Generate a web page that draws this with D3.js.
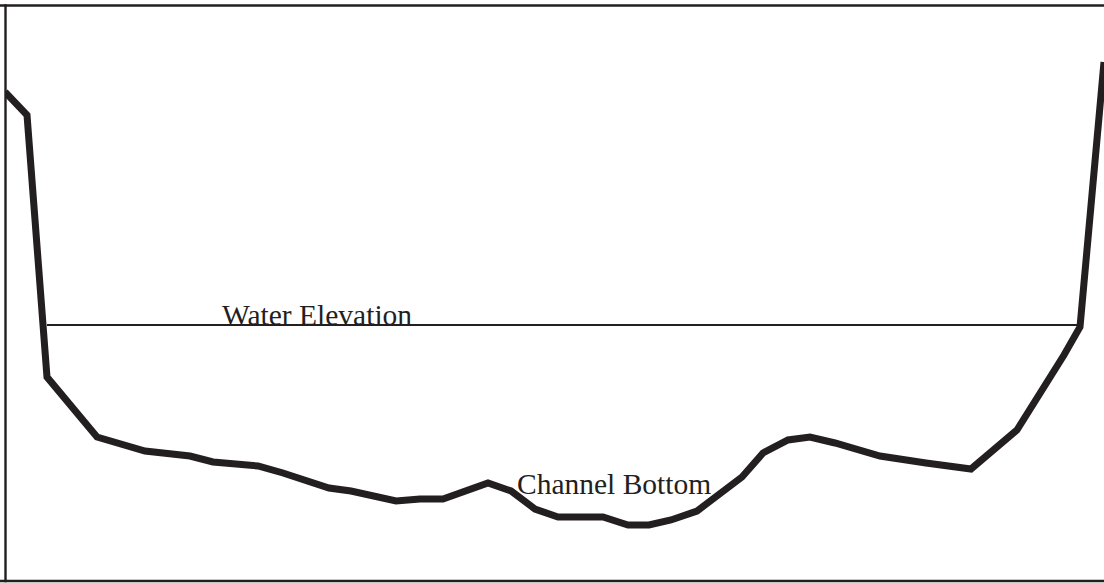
<!DOCTYPE html>
<html>
<head>
<meta charset="utf-8">
<script src="https://cdn.jsdelivr.net/npm/d3@7/dist/d3.min.js"></script>
<style>
  html, body { margin: 0; padding: 0; background: #fff; }
  svg { display: block; }
</style>
</head>
<body>
<svg id="chart" width="1104" height="583"></svg>
<script>
// Channel cross-section: station (horizontal distance) and bed elevation
const stations = [0, 22, 42, 92, 140, 185, 208, 253, 278, 324, 346, 391, 415, 438, 483, 506, 530, 553, 598, 623, 644, 666, 692, 737, 758, 783, 805, 830, 875, 921, 966, 1012, 1059, 1075, 1099];
const bedElevation = [489, 466, 204, 144, 130, 125, 119, 115, 108, 93, 90, 80, 82, 82, 98, 90, 72, 64, 64, 56, 56, 61, 70, 104, 128, 141, 144, 138, 125, 118, 112, 151, 226, 254, 519];
// Water surface
const waterStations = [42, 1073];
const waterElevation = [256, 256];
// Labels
const labelTexts = ["Water Elevation", "Channel Bottom"];
const labelStations = [217, 512];
const labelElevations = [256, 87];

const W = 1104, H = 583;
const ink = "#231f20";
const svg = d3.select("#chart");

const x = d3.scaleLinear().domain([0, 1099]).range([5, 1104]);
const y = d3.scaleLinear().domain([0, 576]).range([581, 5]);

svg.append("defs").append("clipPath").attr("id", "plotclip")
  .append("rect").attr("x", 5).attr("y", 5).attr("width", W - 5).attr("height", 576);

const g = svg.append("g").attr("clip-path", "url(#plotclip)");

const line = d3.line().x(d => x(d[0])).y(d => y(d[1]));

// water surface
g.append("path")
  .datum(d3.zip(waterStations, waterElevation))
  .attr("d", line)
  .attr("fill", "none")
  .attr("stroke", ink)
  .attr("stroke-width", 2);

// channel bottom
g.append("path")
  .datum(d3.zip(stations, bedElevation))
  .attr("d", line)
  .attr("fill", "none")
  .attr("stroke", ink)
  .attr("stroke-width", 7)
  .attr("stroke-linejoin", "miter");

// labels
svg.selectAll("text.lbl")
  .data(d3.zip(labelTexts, labelStations, labelElevations))
  .join("text")
  .attr("class", "lbl")
  .attr("x", d => x(d[1]))
  .attr("y", d => y(d[2]))
  .attr("font-family", "'Liberation Serif', 'Times New Roman', serif")
  .attr("font-size", 29.5)
  .attr("fill", ink)
  .text(d => d[0]);

// frame (left, top, bottom)
const frame = svg.append("g").attr("stroke", ink).attr("stroke-width", 2.4).attr("fill", "none");
frame.append("line").attr("x1", 0).attr("x2", W).attr("y1", 5.5).attr("y2", 5.5);
frame.append("line").attr("x1", 0).attr("x2", W).attr("y1", 581).attr("y2", 581);
frame.append("line").attr("x1", 5.5).attr("x2", 5.5).attr("y1", 4.3).attr("y2", 582.2);
</script>
</body>
</html>
